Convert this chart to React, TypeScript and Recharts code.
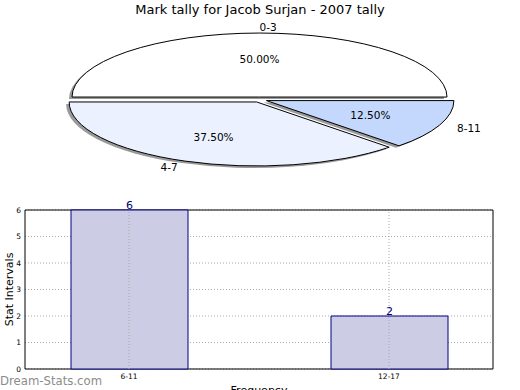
import React from 'react';
import { PieChart, Pie, BarChart, Bar, XAxis, YAxis, CartesianGrid, ReferenceArea, ReferenceLine, LabelList, Label } from 'recharts';

const tallyNames = ['0-3', '4-7', '8-11'];
const tallyCounts = [4, 3, 1];
const tallyColors = ['#ffffff', '#ebf1fe', '#c4d8fe'];

const intervalNames = ['6-11', '12-17'];
const intervalCounts = [6, 2];
const yTicks = [0, 1, 2, 3, 4, 5, 6];

const pieData = tallyNames.map((name, i) => ({ name, value: tallyCounts[i], fill: tallyColors[i] }));
const barData = intervalNames.map((name, i) => ({ x: i, name, value: intervalCounts[i] }));

const FONT = '"DejaVu Sans", sans-serif';
const RX = 187.5;
const RY = 64;
const EXPLODE = 0.04;
const RAD = Math.PI / 180;

// pie is squashed into an ellipse, like the original
const ellipsePath = (cx: number, cy: number, a0: number, a1: number) => {
  const p = (a: number) => [cx + RX * Math.cos(a * RAD), cy - RY * Math.sin(a * RAD)];
  const [x0, y0] = p(a0);
  const [x1, y1] = p(a1);
  const large = a1 - a0 > 180 ? 1 : 0;
  return `M${cx},${cy} L${x0},${y0} A${RX},${RY} 0 ${large} 0 ${x1},${y1} Z`;
};

const shift = (mid: number) => [EXPLODE * RX * Math.cos(mid * RAD), -EXPLODE * RY * Math.sin(mid * RAD)];

const SliceShape = (props: any) => {
  const { cx, cy, startAngle, endAngle, midAngle, fill } = props;
  const [dx, dy] = shift(midAngle);
  return <path d={ellipsePath(cx + dx, cy + dy, startAngle, endAngle)} fill={fill} stroke="#000" strokeWidth={1} />;
};

const ShadowShape = (props: any) => {
  const { cx, cy, startAngle, endAngle, midAngle } = props;
  const [dx, dy] = shift(midAngle);
  return <path d={ellipsePath(cx + dx - 3, cy + dy + 2, startAngle, endAngle)} fill="#9a9a9a" stroke="none" />;
};

const SliceLabel = (props: any) => {
  const { cx, cy, midAngle, percent, name } = props;
  const [dx, dy] = shift(midAngle);
  const c = Math.cos(midAngle * RAD);
  const s = Math.sin(midAngle * RAD);
  const ox = cx + dx;
  const oy = cy + dy;
  return (
    <g fontFamily={FONT} fontSize={10.5} fill="#000">
      <text x={ox + 1.1 * RX * c} y={oy - 1.1 * RY * s} textAnchor={c >= 0 ? 'start' : 'end'} dominantBaseline="central">
        {name}
      </text>
      <text x={ox + 0.6 * RX * c} y={oy - 0.6 * RY * s} textAnchor="middle" dominantBaseline="central">
        {(percent * 100).toFixed(2)}%
      </text>
    </g>
  );
};

export default function App() {
  return (
    <div style={{ position: 'absolute', left: 0, top: 0, width: 520, height: 390, background: '#fff', overflow: 'hidden' }}>
      <div style={{ position: 'absolute', left: 0, top: 2, width: 520, textAlign: 'center', fontFamily: FONT, fontSize: 13 }}>
        Mark tally for Jacob Surjan - 2007 tally
      </div>
      <div style={{ position: 'absolute', left: 0, top: 0 }}>
        <PieChart width={520} height={190} margin={{ top: 0, right: 0, bottom: 0, left: 0 }}>
          <Pie data={pieData} dataKey="value" nameKey="name" cx={259.5} cy={99.6} outerRadius={RY} startAngle={0} endAngle={360}
            shape={ShadowShape} isAnimationActive={false} />
          <Pie data={pieData} dataKey="value" nameKey="name" cx={259.5} cy={99.6} outerRadius={RY} startAngle={0} endAngle={360}
            shape={SliceShape} label={SliceLabel} labelLine={false} isAnimationActive={false} />
        </PieChart>
      </div>
      <div style={{ position: 'absolute', left: 0, top: 195 }}>
        <BarChart width={520} height={195} data={barData} margin={{ top: 15, right: 27, bottom: 0, left: 0 }}>
          <CartesianGrid stroke="#aaa" strokeDasharray="1 2" vertical={false} />
          <XAxis dataKey="x" type="number" domain={[-0.4, 1.4]} ticks={[0, 1]} height={21}
            tickFormatter={(v: number) => intervalNames[v]} axisLine={false} tickLine={false} tickSize={0}
            tick={{ fontSize: 7.5, fill: '#000', fontFamily: FONT }} tickMargin={5}>
            <Label value="Frequency" position="insideBottom" offset={-4} style={{ fontSize: 11, fontFamily: FONT, fill: '#000' }} />
          </XAxis>
          <YAxis domain={[0, 6]} ticks={yTicks} width={25} axisLine={false} tickLine={false} tickSize={0}
            tick={{ fontSize: 7.5, fill: '#000', fontFamily: FONT }} tickMargin={4}>
            <Label value="Stat Intervals" angle={-90} position="insideLeft" offset={9} style={{ fontSize: 11, fontFamily: FONT, fill: '#000', textAnchor: 'middle' }} />
          </YAxis>
          <Bar dataKey="value" barSize={117} fill="#ccccE4" stroke="#000080" strokeWidth={1} isAnimationActive={false}>
            <LabelList dataKey="value" position="top" offset={1} fill="#000080" fontSize={11} fontFamily={FONT} />
          </Bar>
          {barData.map((d) => (
            <ReferenceLine key={d.name} x={d.x} stroke="#aaa" strokeDasharray="1 2" />
          ))}
          <ReferenceArea x1={-0.4} x2={1.4} y1={0} y2={6} fill="none" stroke="#000" strokeWidth={1} ifOverflow="visible" />
        </BarChart>
      </div>
      <div style={{ position: 'absolute', left: 0, top: 374, fontFamily: FONT, fontSize: 11.7, color: '#8c8c8c' }}>
        Dream-Stats.com
      </div>
    </div>
  );
}
